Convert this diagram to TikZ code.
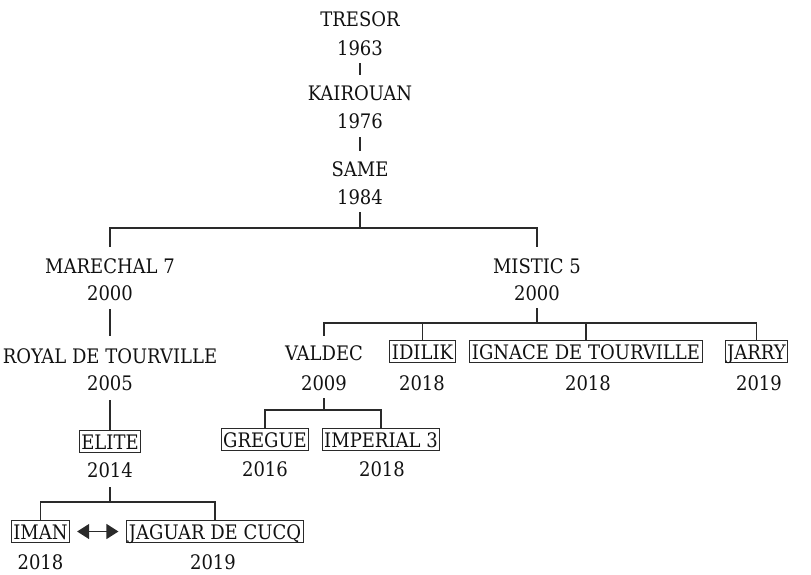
\documentclass[tikz,border=0pt]{standalone}
\usepackage{fontspec}
\setmainfont{DejaVu Serif Condensed}
\usetikzlibrary{arrows.meta}
\definecolor{ink}{HTML}{111111}
\definecolor{wire}{HTML}{2A2A2A}
\begin{document}
\begin{tikzpicture}[x=1pt,y=-1pt,
  lbl/.style={anchor=base,inner xsep=0pt,inner ysep=0pt,text height=15pt,text depth=0pt,
    font=\fontsize{20}{24}\selectfont,text=ink},
  boxed/.style={lbl,draw=wire,line width=1pt,inner xsep=2pt,inner ysep=3.5pt},
  conn/.style={draw=wire,line width=1.2pt},
  dbl/.style={conn,{Triangle[length=12pt,width=15pt]}-{Triangle[length=12pt,width=15pt]},shorten <=7pt,shorten >=8pt}]
\useasboundingbox (0,0) rectangle (811,574);
% nodes
\node[lbl] (tresor) at (360,26) {TRESOR};
\node[lbl] (y1963) at (360,55) {1963};
\node[lbl] (kairouan) at (360,100) {KAIROUAN};
\node[lbl] (y1976) at (360,128) {1976};
\node[lbl] (same) at (360,176) {SAME};
\node[lbl] (y1984) at (360,204) {1984};
\node[lbl] (marechal) at (110,273) {MARECHAL 7};
\node[lbl] (y2000a) at (110,300) {2000};
\node[lbl] (mistic) at (537,273) {MISTIC 5};
\node[lbl] (y2000b) at (537,300) {2000};
\node[lbl] (royal) at (110,363) {ROYAL DE TOURVILLE};
\node[lbl] (y2005) at (110,390) {2005};
\node[boxed] (elite) at (110,449) {ELITE};
\node[lbl] (y2014) at (110,477) {2014};
\node[boxed] (iman) at (40.5,539) {IMAN};
\node[lbl] (y2018a) at (40.5,569) {2018};
\node[boxed] (jaguar) at (215,539) {JAGUAR DE CUCQ};
\node[lbl] (y2019a) at (213,569) {2019};
\node[lbl] (valdec) at (324,360) {VALDEC};
\node[lbl] (y2009) at (324,390) {2009};
\node[boxed] (idilik) at (422.5,359) {IDILIK};
\node[lbl] (y2018b) at (422,390) {2018};
\node[boxed] (ignace) at (586,359) {IGNACE DE TOURVILLE};
\node[lbl] (y2018c) at (588,390) {2018};
\node[boxed] (jarry) at (756.5,359) {JARRY};
\node[lbl] (y2019b) at (759,390) {2019};
\node[boxed] (gregue) at (265,447) {GREGUE};
\node[lbl] (y2016) at (265,476) {2016};
\node[boxed] (imperial) at (381,447) {IMPERIAL 3};
\node[lbl] (y2018d) at (382,476) {2018};
% junction coordinates
\coordinate (j1) at (360,228);
\coordinate (j2) at (537,323);
\coordinate (j3) at (324,410);
\coordinate (j4) at (110,502);
% connectors
\draw[conn,shorten <=8pt,shorten >=10pt] (y1963.south) -- (kairouan.north);
\draw[conn,shorten <=9pt,shorten >=10pt] (y1976.south) -- (same.north);
\draw[conn,shorten <=8pt] (y1984.south) -- (j1);
\draw[conn,shorten >=11pt] (j1) -| (marechal.north);
\draw[conn,shorten >=11pt] (j1) -| (mistic.north);
\draw[conn,shorten <=9pt,shorten >=12pt] (y2000a.south) -- (royal.north);
\draw[conn,shorten <=10pt] (y2005.south) -- (elite.north);
\draw[conn,shorten <=10pt] (y2014.south) -- (j4);
\draw[conn] (j4) -| (iman.north);
\draw[conn] (j4) -| (jaguar.north);
\draw[dbl] (iman.east) -- (jaguar.west);
\draw[conn,shorten <=8pt] (y2000b.south) -- (j2);
\draw[conn,shorten >=9pt] (j2) -| (valdec.north);
\draw[conn] (j2) -| (idilik.north);
\draw[conn] (j2) -| (ignace.north);
\draw[conn] (j2) -| (jarry.north);
\draw[conn,shorten <=8pt] (y2009.south) -- (j3);
\draw[conn] (j3) -| (gregue.north);
\draw[conn] (j3) -| (imperial.north);
\end{tikzpicture}
\end{document}
